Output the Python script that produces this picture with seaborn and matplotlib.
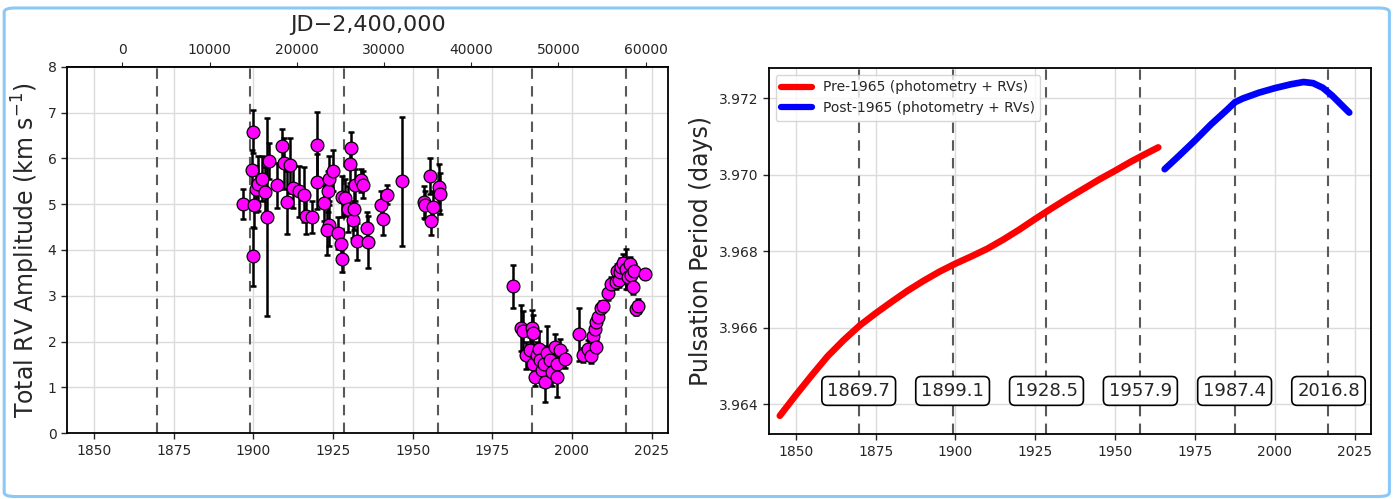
import numpy as np
import pandas as pd
import matplotlib
matplotlib.use("Agg")
import matplotlib.pyplot as plt
import seaborn as sns
from matplotlib.patches import FancyBboxPatch

# ---------------- data ----------------
dash_years = [1869.7, 1899.1, 1928.5, 1957.9, 1987.4, 2016.8]

amp_year = [1896.8, 1899.6, 1899.9, 1900.1, 1900.7, 1899.9, 1901.5, 1902.8, 1903.8, 1904.3,
            1904.9, 1907.5, 1909.0, 1909.5, 1910.6, 1911.6, 1912.5, 1914.3, 1915.8, 1916.4,
            1918.4, 1920.0, 1920.0, 1922.1, 1923.5, 1923.7, 1923.7, 1923.2, 1925.0, 1926.5,
            1927.5, 1927.9, 1927.9, 1928.7, 1929.8, 1930.3, 1930.8, 1931.3, 1931.5, 1931.8,
            1932.4, 1933.9, 1934.5, 1935.7, 1936.0, 1940.2, 1940.7, 1942.0, 1946.5, 1953.6,
            1954.0, 1955.3, 1955.9, 1956.4, 1958.3, 1958.5,
            1981.4, 1984.1, 1984.6, 1985.6, 1986.9, 1987.4, 1987.9, 1987.9, 1988.4, 1989.0,
            1989.5, 1990.0, 1990.5, 1991.2, 1991.6, 1992.1, 1993.1, 1993.7, 1994.7, 1995.2,
            1995.2, 1996.3, 1997.9, 2002.2, 2003.5, 2005.0, 2006.1, 2006.6, 2007.1, 2007.6,
            2007.6, 2008.1, 2009.2, 2009.8, 2011.3, 2012.3, 2013.9, 2014.0, 2014.9, 2015.0,
            2015.4, 2015.9, 2017.0, 2017.5, 2018.1, 2018.6, 2019.1, 2019.6, 2020.2, 2020.6,
            2022.8]
amp_value = [5.01, 5.74, 6.58, 4.98, 5.34, 3.86, 5.45, 5.56, 5.27, 4.72,
             5.94, 5.41, 6.27, 5.89, 5.04, 5.85, 5.36, 5.28, 5.21, 4.74,
             4.72, 6.29, 5.49, 5.03, 5.28, 5.56, 4.54, 4.43, 5.73, 4.38,
             4.14, 3.81, 5.16, 5.14, 4.90, 5.87, 6.22, 4.66, 4.89, 5.41,
             4.19, 5.52, 5.43, 4.47, 4.18, 4.98, 4.67, 5.21, 5.50, 5.05,
             4.98, 5.62, 4.63, 4.94, 5.38, 5.23,
             3.21, 2.30, 2.22, 1.70, 1.81, 2.30, 2.18, 1.52, 1.23, 1.70,
             1.84, 1.60, 1.37, 1.50, 1.12, 1.74, 1.59, 1.33, 1.89, 1.52,
             1.23, 1.81, 1.62, 2.16, 1.70, 1.84, 1.68, 2.13, 2.28, 1.89,
             2.43, 2.54, 2.74, 2.78, 3.06, 3.26, 3.30, 3.55, 3.34, 3.52,
             3.62, 3.72, 3.59, 3.40, 3.70, 3.45, 3.19, 3.55, 2.72, 2.78,
             3.47]
amp_error = [0.33, 0.45, 0.47, 0.50, 0.50, 0.65, 0.60, 0.50, 0.55, 2.16,
             0.40, 0.50, 0.38, 0.55, 0.68, 0.60, 0.45, 0.55, 0.60, 0.40,
             0.35, 0.72, 0.60, 0.40, 0.45, 0.50, 0.45, 0.55, 0.45, 0.35,
             0.30, 0.30, 0.45, 0.40, 0.50, 0.40, 0.35, 0.40, 0.45, 0.35,
             0.40, 0.25, 0.30, 0.35, 0.57, 0.30, 0.35, 0.20, 1.41, 0.35,
             0.30, 0.40, 0.30, 0.35, 0.50, 0.45,
             0.47, 0.50, 0.45, 0.30, 0.30, 0.38, 0.40, 0.25, 0.20, 0.30,
             0.40, 0.30, 0.35, 0.40, 0.44, 0.60, 0.30, 0.30, 0.28, 0.30,
             0.44, 0.25, 0.20, 0.58, 0.15, 0.20, 0.15, 0.20, 0.20, 0.15,
             0.15, 0.15, 0.15, 0.10, 0.15, 0.15, 0.15, 0.15, 0.15, 0.15,
             0.20, 0.20, 0.44, 0.20, 0.15, 0.15, 0.15, 0.15, 0.15, 0.15,
             0.10]

pre_year = [1845.0, 1850, 1855, 1860, 1865, 1870, 1875, 1880, 1885, 1890, 1895, 1900,
            1905, 1910, 1915, 1920, 1925, 1930, 1935, 1940, 1945, 1950, 1955, 1960, 1963.5]
pre_period = [3.96370, 3.96424, 3.96476, 3.96526, 3.96568, 3.96606, 3.96638, 3.96668,
              3.96697, 3.96723, 3.96747, 3.96768, 3.96787, 3.96807, 3.96831, 3.96857,
              3.96885, 3.96912, 3.96938, 3.96963, 3.96988, 3.97011, 3.97035, 3.97057, 3.97072]
post_year = [1965.5, 1970, 1975, 1980, 1985, 1987.5, 1990, 1995, 2000, 2005, 2009,
             2012, 2015, 2018, 2021, 2023.3]
post_period = [3.97015, 3.97050, 3.97090, 3.97132, 3.97170, 3.97190, 3.97200, 3.97215,
               3.97227, 3.97237, 3.97243, 3.97240, 3.97228, 3.97207, 3.97182, 3.97163]

series_labels = ["Pre-1965 (photometry + RVs)", "Post-1965 (photometry + RVs)"]
year_ticks = [1850, 1875, 1900, 1925, 1950, 1975, 2000, 2025]
jd_ticks = [0, 10000, 20000, 30000, 40000, 50000, 60000]
amp_ticks = [0, 1, 2, 3, 4, 5, 6, 7, 8]
period_ticks = [3.964, 3.966, 3.968, 3.970, 3.972]

# ---------------- style ----------------
sns.set_style("ticks")
plt.rcParams["font.family"] = ["DejaVu Sans"]
plt.rcParams["xtick.labelsize"] = 10
plt.rcParams["ytick.labelsize"] = 10
plt.rcParams["axes.edgecolor"] = "black"
plt.rcParams["axes.linewidth"] = 1.3

fig = plt.figure(figsize=(13.95, 4.99), dpi=100)
ax1 = fig.add_axes([0.048, 0.132, 0.431, 0.734])
ax2 = fig.add_axes([0.551, 0.130, 0.432, 0.734])

fig.patches.append(FancyBboxPatch((0.003, 0.005), 0.993, 0.979,
                                  boxstyle="round,pad=0,rounding_size=0.008",
                                  transform=fig.transFigure, fill=False,
                                  ec="#8cc8f6", lw=2.2))

XLIM = (1841.5, 2030.2)

# ---------------- left panel ----------------
amp_df = pd.DataFrame({"year": amp_year, "amp": amp_value, "err": amp_error})
for ax in (ax1, ax2):
    ax.grid(True, color="0.86", lw=1.0)
    ax.set_axisbelow(True)
    for y in dash_years:
        ax.axvline(y, color="0.35", ls=(0, (5, 3.5)), lw=1.5, zorder=1)

ax1.errorbar(amp_df["year"], amp_df["amp"], yerr=amp_df["err"], fmt="none",
             ecolor="black", elinewidth=1.8, capsize=2.5, capthick=1.8, zorder=2)
sns.scatterplot(data=amp_df, x="year", y="amp", ax=ax1, color="#ff00ff",
                edgecolor="black", linewidth=0.9, s=85, zorder=3)
ax1.set_xlim(*XLIM)
ax1.set_ylim(0, 8)
ax1.set_xticks(year_ticks)
ax1.set_yticks(amp_ticks)
ax1.set_xlabel("")
ax1.set_ylabel(r"Total RV Amplitude (km s$^{-1}$)", fontsize=17)

JD0 = 1858.875
secax = ax1.secondary_xaxis("top", functions=(lambda y: (y - JD0) * 365.25,
                                               lambda j: JD0 + j / 365.25))
secax.set_xticks(jd_ticks)
secax.set_xlabel("JD\u22122,400,000", fontsize=16, labelpad=9)
secax.tick_params(labelsize=10)

# ---------------- right panel ----------------
pre_df = pd.DataFrame({"year": pre_year, "period": pre_period})
post_df = pd.DataFrame({"year": post_year, "period": post_period})
sns.lineplot(data=pre_df, x="year", y="period", ax=ax2, color="red", lw=4.8,
             label=series_labels[0], solid_capstyle="round", solid_joinstyle="round",
             zorder=3)
sns.lineplot(data=post_df, x="year", y="period", ax=ax2, color="blue", lw=4.8,
             label=series_labels[1], solid_capstyle="round", solid_joinstyle="round",
             zorder=3)
ax2.set_xlim(*XLIM)
ax2.set_ylim(3.96322, 3.9728)
ax2.set_xticks(year_ticks)
ax2.set_yticks(period_ticks)
ax2.set_yticklabels([f"{t:.3f}" for t in period_ticks])
ax2.set_xlabel("")
ax2.set_ylabel("Pulsation Period (days)", fontsize=17)
leg = ax2.legend(loc="upper left", fontsize=10, frameon=True, handlelength=2.2,
                 borderaxespad=0.5)
leg.get_frame().set_edgecolor("0.8")
for line in leg.get_lines():
    line.set_linewidth(4.5)

for y in dash_years:
    ax2.text(y, 3.96435, f"{y:.1f}", ha="center", va="center", fontsize=13, zorder=4,
             bbox=dict(boxstyle="round,pad=0.3", fc="white", ec="black", lw=1.2))

for ax in (ax1, ax2):
    ax.tick_params(direction="out", length=4, width=1)

fig.savefig("out.png", dpi=100)
